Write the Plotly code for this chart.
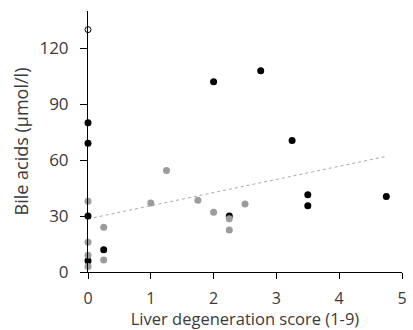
import plotly.graph_objects as go

# Black series (score, bile acids)
black_x = [0, 0, 0, 0, 0.25, 2.0, 2.75, 2.25, 3.25, 3.5, 3.5, 4.75]
black_y = [80, 69, 30, 6, 12, 102, 108, 30, 70.5, 41.5, 35.5, 40.5]

# Grey series
grey_x = [0, 0, 0, 0, 0.25, 0.25, 1.0, 1.25, 1.75, 2.0, 2.25, 2.25, 2.5]
grey_y = [38, 16, 9, 3, 24, 6.5, 37, 54.5, 38.5, 32, 28.5, 22.5, 36.5]

# Open (outlier) point
open_x = [0]
open_y = [130]

# Trendline endpoints
trend_x = [0, 4.75]
trend_y = [28.5, 62]

x_ticks = [0, 1, 2, 3, 4, 5]
y_ticks = [0, 30, 60, 90, 120]

font = "Open Sans"
text_col = "#3a3a3a"

fig = go.Figure()
fig.add_trace(go.Scatter(x=trend_x, y=trend_y, mode="lines",
                         line=dict(color="#aaaaaa", width=1, dash="dot"),
                         hoverinfo="skip", cliponaxis=False))
fig.add_trace(go.Scatter(x=black_x, y=black_y, mode="markers",
                         marker=dict(color="#000000", size=7, line=dict(width=0)),
                         cliponaxis=False))
fig.add_trace(go.Scatter(x=grey_x, y=grey_y, mode="markers",
                         marker=dict(color="#9c9c9c", size=7, line=dict(width=0)),
                         cliponaxis=False))
fig.add_trace(go.Scatter(x=open_x, y=open_y, mode="markers",
                         marker=dict(color="white", size=6, symbol="circle",
                                     line=dict(color="#000000", width=1)),
                         cliponaxis=False))

fig.update_layout(
    width=413, height=330,
    margin=dict(l=88, r=6, t=11, b=58),
    paper_bgcolor="white", plot_bgcolor="white",
    showlegend=False,
    font=dict(family=font, size=17, color=text_col),
)
fig.update_xaxes(
    range=[0, 5], tickvals=x_ticks, ticks="outside", ticklen=6, tickcolor="#000",
    tickwidth=1, showline=True, linecolor="#000", linewidth=1, showgrid=False,
    zeroline=False, tickfont=dict(size=16), ticklabeloverflow="allow",
    ticklabelstandoff=6,
    title=dict(text="Liver degeneration score (1-9)", font=dict(size=16.5), standoff=1),
)
fig.update_yaxes(
    range=[0, 140], tickvals=y_ticks, ticks="outside", ticklen=7, tickcolor="#000",
    tickwidth=1, showline=True, linecolor="#000", linewidth=1, showgrid=False,
    zeroline=False, tickfont=dict(size=17), ticklabelstandoff=8,
    title=dict(text="Bile acids (µmol/l)", font=dict(size=18), standoff=6),
)

fig.write_html("out.html", config={"displayModeBar": False},
               post_script="document.body.style.margin='0';")
